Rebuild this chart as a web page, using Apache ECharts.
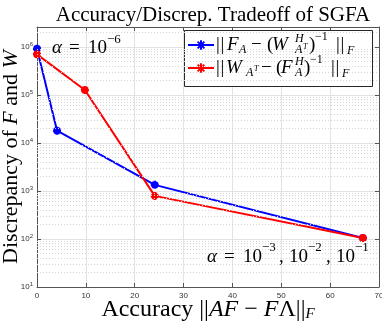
<!DOCTYPE html>
<html>
<head>
<meta charset="utf-8">
<script src="https://cdn.jsdelivr.net/npm/echarts@6/dist/echarts.min.js"></script>
<style>
  html, body { margin: 0; padding: 0; background: #fff; }
  #chart { width: 382px; height: 324px; }
</style>
</head>
<body>
<div id="chart"></div>
<script>
// data
const accuracyBlue = [0, 4.1, 24.1, 66.7];
const discrepBlue = [9.2e5, 1.8e4, 1.34e3, 105];
const accuracyRed = [0, 9.8, 24.1, 66.7];
const discrepRed = [7.0e5, 1.27e5, 790, 105];

const xTicks = [0, 10, 20, 30, 40, 50, 60, 70];
const yExponents = [1, 2, 3, 4, 5, 6];

const SERIF = '"Liberation Serif", "DejaVu Serif", serif';
const AXIS_COLOR = '#555';

var chart = echarts.init(document.getElementById('chart'), null, { renderer: 'canvas' });

var yMax = 2.6e6;

// minor log grid (2..9 x 10^k), drawn as mark lines on the y scale
var minorGrid = [];
yExponents.forEach(function (e) {
  for (var k = 2; k <= 9; k++) {
    var v = k * Math.pow(10, e);
    if (v < yMax) minorGrid.push({ yAxis: v });
  }
});

// one piece of math text
function mt(text, x, y, size, italic) {
  return {
    type: 'text',
    x: x,
    y: y,
    z: 10,
    silent: true,
    style: {
      text: text,
      font: (italic ? 'italic ' : '') + size + 'px ' + SERIF,
      fill: '#000',
      textAlign: 'left',
      textVerticalAlign: 'middle'
    }
  };
}
// latex-like norm bars "||"
function bars(x, y) {
  return [mt('|', x + 1, y, 19), mt('|', x + 5.5, y, 19)];
}

var r1 = 45, r2 = 68;
var legendText = [].concat(
  bars(215, r1),
  [mt('F', 227, r1, 19, true), mt('A', 239, r1 + 5, 12, true),
   mt('\u2212', 251, r1, 19), mt('(', 267, r1, 19), mt('W', 272, r1, 19, true),
   mt('H', 295, r1 - 6, 12, true), mt('A', 295, r1 + 5, 12, true), mt('T', 303, r1 + 2, 8, true),
   mt(')', 309, r1, 19), mt('\u22121', 315, r1 - 8, 12)],
  bars(335, r1),
  [mt('F', 347, r1 + 6, 12, true)],

  bars(215, r2),
  [mt('W', 226, r2, 19, true), mt('A', 246, r2 + 5, 12, true),
   mt('T', 254, r2 + 1, 8, true), mt('\u2212', 261, r2, 19), mt('(', 276, r2, 19),
   mt('F', 281, r2, 19, true), mt('H', 295, r2 - 6, 12, true), mt('A', 295, r2 + 5, 12, true),
   mt(')', 304, r2, 19), mt('\u22121', 310, r2 - 8, 12)],
  bars(330, r2),
  [mt('F', 342, r2 + 6, 12, true)]
);

var a1 = 48, a2 = 257;
var alphaText = [
  mt('\u03b1', 52, a1, 19, true), mt('=', 69, a1, 19), mt('10', 88, a1, 19), mt('\u22126', 107, a1 - 8, 13),

  mt('\u03b1', 207, a2, 19, true), mt('=', 224, a2, 19), mt('10', 243, a2, 19), mt('\u22123', 262, a2 - 9, 13),
  mt(',', 279, a2, 19), mt('10', 289, a2, 19), mt('\u22122', 308, a2 - 9, 13),
  mt(',', 326, a2, 19), mt('10', 336, a2, 19), mt('\u22121', 355, a2 - 9, 13)
];

var legendFrame = {
  type: 'rect',
  z: 3,
  silent: true,
  shape: { x: 184.5, y: 30.5, width: 188, height: 56 },
  style: { fill: '#fff', stroke: '#262626', lineWidth: 1 }
};

var starPath = 'path://M0,-10L0,10M-10,0L10,0M-7,-7L7,7M-7,7L7,-7';

function makeSeries(name, xs, ys, color, withGrid) {
  var s = {
    name: name,
    type: 'line',
    data: xs.map(function (x, i) { return [x, ys[i]]; }),
    symbol: starPath,
    symbolSize: 8,
    lineStyle: { color: color, width: 2 },
    itemStyle: { color: color, borderColor: color, borderWidth: 2.5 },
    animation: false
  };
  if (withGrid) {
    s.markLine = {
      silent: true,
      symbol: 'none',
      label: { show: false },
      animation: false,
      lineStyle: { color: '#d6d6d6', type: [1, 2], width: 1 },
      data: minorGrid
    };
  }
  return s;
}

var tickLabel = { fontSize: 8, color: '#333', fontFamily: 'Liberation Sans, sans-serif' };

chart.setOption({
  animation: false,
  backgroundColor: '#fff',
  title: {
    text: 'Accuracy/Discrep. Tradeoff of SGFA',
    left: 208,
    textAlign: 'center',
    top: 0,
    textStyle: { fontFamily: SERIF, fontSize: 21, fontWeight: 'normal', color: '#000' }
  },
  grid: { left: 37, right: 3, top: 27, bottom: 37, containLabel: false, outerBoundsMode: 'none' },
  legend: {
    orient: 'vertical',
    left: 187,
    top: 39,
    itemWidth: 26,
    itemHeight: 12,
    itemGap: 11,
    padding: 0,
    z: 5,
    data: ['blue', 'red'],
    formatter: function () { return ' '; },
    textStyle: { fontSize: 10, lineHeight: 12 }
  },
  xAxis: [{
    type: 'value',
    min: 0,
    max: 70,
    interval: 10,
    name: 'Accuracy ||{i|AF} \u2212 {i|F}\u039b||{s|F}',
    nameLocation: 'middle',
    nameGap: 10,
    nameMoveOverlap: false,
    nameTextStyle: {
      fontFamily: SERIF, fontSize: 24, color: '#000', verticalAlign: 'top',
      rich: {
        i: { fontFamily: SERIF, fontSize: 24, fontStyle: 'italic', color: '#000' },
        s: { fontFamily: SERIF, fontSize: 15, fontStyle: 'italic', color: '#000', padding: [10, 0, 0, 0] }
      }
    },
    axisLine: { show: true, lineStyle: { color: AXIS_COLOR, width: 1 } },
    axisTick: { show: true, inside: true, length: 4, lineStyle: { color: AXIS_COLOR } },
    axisLabel: Object.assign({
      margin: 5,
      formatter: function (v) { return xTicks.indexOf(v) >= 0 ? String(v) : ''; }
    }, tickLabel),
    splitLine: { show: true, lineStyle: { color: '#e3e3e3', width: 1 } }
  }, {
    type: 'value',
    position: 'top',
    min: 0,
    max: 70,
    interval: 10,
    axisLine: { show: true, onZero: false, lineStyle: { color: AXIS_COLOR, width: 1 } },
    axisTick: { show: true, inside: true, length: 4, lineStyle: { color: AXIS_COLOR } },
    axisLabel: { show: false },
    splitLine: { show: false }
  }],
  yAxis: [{
    type: 'log',
    logBase: 10,
    min: 10,
    max: yMax,
    name: 'Discrepancy of {i|F} and {i|W}',
    nameLocation: 'middle',
    nameRotate: 90,
    nameGap: 15,
    nameMoveOverlap: false,
    nameTextStyle: {
      fontFamily: SERIF, fontSize: 22, color: '#000',
      rich: { i: { fontFamily: SERIF, fontSize: 22, fontStyle: 'italic', color: '#000' } }
    },
    axisLine: { show: true, lineStyle: { color: AXIS_COLOR, width: 1 } },
    axisTick: { show: true, inside: true, length: 4, lineStyle: { color: AXIS_COLOR } },
    axisLabel: Object.assign({
      margin: 4,
      showMaxLabel: false,
      formatter: function (v) {
        var e = Math.round(Math.log10(v));
        if (yExponents.indexOf(e) < 0 || Math.abs(Math.pow(10, e) - v) > 1e-6 * v) return '';
        return '10{s|' + e + '}';
      },
      rich: { s: { fontSize: 6, color: '#333', padding: [0, 0, 6, 0] } }
    }, tickLabel),
    splitLine: { show: true, lineStyle: { color: '#e3e3e3', width: 1 } }
  }, {
    type: 'log',
    logBase: 10,
    min: 10,
    max: yMax,
    position: 'right',
    axisLine: { show: true, onZero: false, lineStyle: { color: AXIS_COLOR, width: 1 } },
    axisTick: { show: true, inside: true, length: 4, lineStyle: { color: AXIS_COLOR } },
    axisLabel: { show: false },
    splitLine: { show: false }
  }],
  series: [
    makeSeries('blue', accuracyBlue, discrepBlue, '#0000ff', true),
    makeSeries('red', accuracyRed, discrepRed, '#ff0000', false)
  ],
  graphic: [legendFrame].concat(legendText, alphaText)
});
</script>
</body>
</html>
